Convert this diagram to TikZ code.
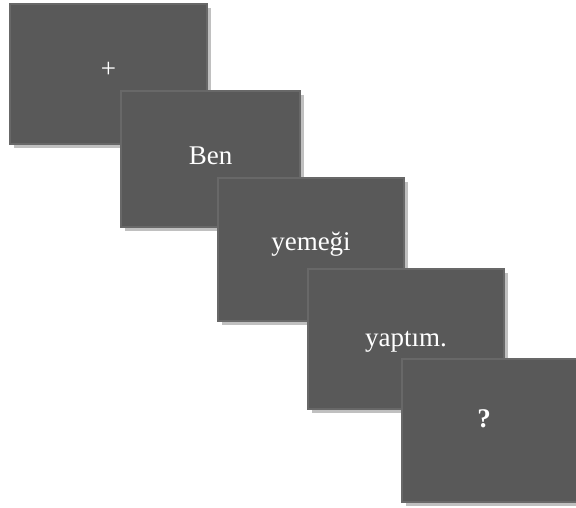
\documentclass[tikz,border=0pt]{standalone}
\usepackage{fontspec}
\setmainfont{Liberation Serif}
\definecolor{boxfill}{HTML}{595959}
\definecolor{boxline}{HTML}{686868}
\definecolor{shadowc}{HTML}{C0C0C0}
\begin{document}
\begin{tikzpicture}[x=1pt,y=-1pt,
  slide/.style={draw=boxline,line width=1.2pt,fill=boxfill},
  shade/.style={fill=shadowc,draw=none},
  word/.style={text=white,anchor=base,inner sep=0pt,font=\fontsize{27}{30}\selectfont}]
\useasboundingbox (0,0) rectangle (576,508);
% box 1
\fill[shade] (14,8) rectangle (211,148);
\draw[slide] (10,4) rectangle (207,144);
\coordinate (b1) at (108.5,74);
\node[word] (t1) at (108.5,77.5) {+};
% box 2
\fill[shade] (125,95) rectangle (304,231);
\draw[slide] (121,91) rectangle (300,227);
\node[word] (t2) at (210.5,164.3) {Ben};
% box 3
\fill[shade] (222,182) rectangle (408,325);
\draw[slide] (218,178) rectangle (404,321);
\node[word] (t3) at (311,251) {yemeği};
% box 4
\fill[shade] (312,273) rectangle (508,413);
\draw[slide] (308,269) rectangle (504,409);
\node[word] (t4) at (406,346.7) {yaptım.};
% box 5
\fill[shade] (406,363) rectangle (580,506);
\draw[slide] (402,359) rectangle (578,502);
\node[word,font=\fontsize{27}{30}\selectfont\bfseries] (t5) at (484,427) {?};
\end{tikzpicture}
\end{document}
